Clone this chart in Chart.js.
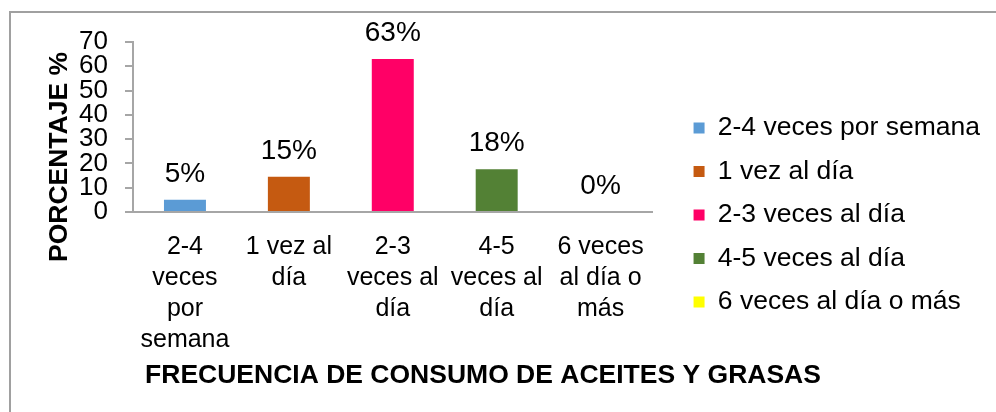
<!DOCTYPE html>
<html>
<head>
<meta charset="utf-8">
<script src="https://cdn.jsdelivr.net/npm/chart.js@4/dist/chart.umd.min.js"></script>
<style>
  body { margin: 0; background: #fff; overflow: hidden; }
  #wrap { position: relative; width: 996px; height: 412px; }
  #marco { position: absolute; left: 9px; top: 11px; width: 1100px; height: 500px; border: 2px solid #a0a0a0; }
  #chart { position: absolute; left: 0; top: 0; }
</style>
</head>
<body>
<div id="wrap">
  <div id="marco"></div>
  <canvas id="chart" width="996" height="412"></canvas>
</div>
<script>
// Datos
const categorias = ["2-4 veces por semana", "1 vez al día", "2-3 veces al día", "4-5 veces al día", "6 veces al día o más"];
const etiquetasEje = [["2-4", "veces", "por", "semana"], ["1 vez al", "día"], ["2-3", "veces al", "día"], ["4-5", "veces al", "día"], ["6 veces", "al día o", "más"]];
const porcentajes = [5, 14.5, 63, 17.6, 0];
const etiquetasValor = ["5%", "15%", "63%", "18%", "0%"];
const colores = ["#5B9BD5", "#C55A11", "#FF0066", "#538135", "#FFFF00"];
const ticksY = [0, 10, 20, 30, 40, 50, 60, 70];

const fuente = "'Liberation Sans', Arial, sans-serif";
const gris = "#a6a6a6";

// Etiquetas encima de las barras y títulos de los ejes
const extras = {
  id: "extras",
  afterDatasetsDraw(chart) {
    const ctx = chart.ctx;
    const meta = chart.getDatasetMeta(0);
    ctx.save();
    ctx.fillStyle = "#000";
    ctx.font = "28px " + fuente;
    ctx.textAlign = "center";
    ctx.textBaseline = "middle";
    meta.data.forEach((barra, i) => {
      ctx.fillText(etiquetasValor[i], barra.x, barra.y - 26);
    });

    ctx.font = "bold 26.5px " + fuente;
    ctx.fillText("FRECUENCIA DE CONSUMO DE ACEITES Y GRASAS", 483, 376);

    ctx.translate(60, 157);
    ctx.rotate(-Math.PI / 2);
    ctx.fillText("PORCENTAJE %", 0, 0);
    ctx.restore();
  }
};

const ctx = document.querySelector("#chart").getContext("2d");
new Chart(ctx, {
  type: "bar",
  data: {
    labels: etiquetasEje,
    datasets: [
      {
        data: porcentajes,
        backgroundColor: colores,
        borderWidth: 0,
        categoryPercentage: 1,
        barPercentage: 0.404,
      },
    ],
  },
  options: {
    responsive: false,
    animation: false,
    layout: { padding: { top: 42, bottom: 24, left: 0, right: 6 } },
    plugins: {
      tooltip: { enabled: false },
      legend: {
        position: "right",
        maxWidth: 400,
        labels: {
          color: "#000",
          font: { family: fuente, size: 26.5 },
          boxWidth: 11,
          boxHeight: 11,
          padding: 17,
          generateLabels: () =>
            categorias.map((nombre, i) => ({
              text: nombre,
              fillStyle: colores[i],
              strokeStyle: colores[i],
              lineWidth: 0,
              hidden: false,
              index: i,
              datasetIndex: 0,
            })),
        },
      },
    },
    scales: {
      x: {
        grid: { display: false, drawTicks: false },
        border: { display: true, color: gris, width: 2 },
        ticks: {
          color: "#000",
          font: { family: fuente, size: 25, lineHeight: 1.24 },
          padding: 20,
          maxRotation: 0,
          minRotation: 0,
          autoSkip: false,
        },
        afterFit: (s) => { s.height = 176; },
      },
      y: {
        min: 0,
        max: 70,
        afterBuildTicks: (s) => { s.ticks = ticksY.map((v) => ({ value: v })); },
        grid: { display: true, drawOnChartArea: false, drawTicks: true, tickLength: 8, color: gris, lineWidth: 2 },
        border: { display: true, color: gris, width: 2 },
        ticks: {
          color: "#000",
          font: { family: fuente, size: 26 },
          padding: 17,
          autoSkip: false,
        },
        afterFit: (s) => { s.width = 133; },
      },
      y2: {
        position: "right",
        display: true,
        grid: { display: false, drawTicks: false },
        border: { display: false },
        ticks: { display: false },
        afterFit: (s) => { s.width = 24; },
      },
    },
  },
  plugins: [extras],
});
</script>
</body>
</html>
